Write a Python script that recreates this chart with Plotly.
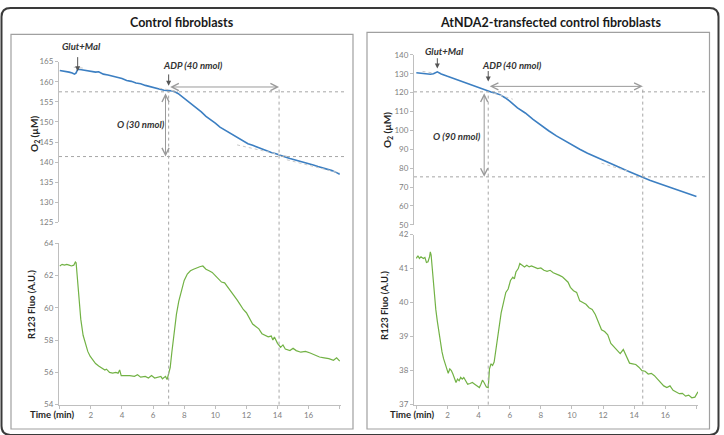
import plotly.graph_objects as go

# ---------------- data ----------------
# Left panel: Control fibroblasts
t_o2_left = [0.0, 0.2, 0.4, 0.6, 0.8, 0.95, 1.05, 1.15, 1.4, 1.7, 2.0, 2.3, 2.5, 2.8, 3.1, 3.4, 3.7, 4.0,
             4.3, 4.6, 4.9, 5.2, 5.5, 5.8, 6.1, 6.4, 6.7, 7.0, 7.3, 7.6, 7.9, 8.2, 8.5, 8.8, 9.1, 9.4,
             9.7, 10.0, 10.3, 10.6, 10.9, 11.2, 11.5, 11.8, 12.1, 12.4, 12.7, 13.0, 13.3, 13.6, 13.9,
             14.2, 14.5, 14.8, 15.1, 15.4, 15.7, 16.0, 16.3, 16.6, 16.9, 17.2, 17.5, 17.8, 18.0]
o2_left = [162.8, 162.7, 162.6, 162.4, 162.2, 161.9, 162.2, 163.1, 163.0, 162.8, 162.6, 162.4, 162.5,
           161.9, 161.7, 161.4, 161.0, 160.8, 160.3, 160.1, 159.7, 159.5, 159.1, 158.8, 158.5, 158.3,
           157.9, 157.8, 157.7, 157.1, 156.2, 155.3, 154.4, 153.3, 152.5, 151.4, 150.6, 149.7, 148.7,
           148.0, 147.4, 146.6, 146.1, 145.3, 144.6, 144.2, 143.7, 143.3, 142.9, 142.4, 142.1, 141.6,
           141.3, 140.9, 140.6, 140.2, 139.9, 139.6, 139.3, 138.9, 138.6, 138.3, 137.9, 137.4, 137.0]

t_fl_left = [0.0, 0.15, 0.3, 0.45, 0.6, 0.75, 0.9, 1.0, 1.05, 1.15, 1.25, 1.35, 1.5, 1.65, 1.8, 1.95,
             2.1, 2.3, 2.5, 2.7, 2.9, 3.0, 3.2, 3.4, 3.6, 3.75, 3.85, 3.95, 4.2, 4.5, 4.8, 5.0, 5.2,
             5.5, 5.7, 5.9, 6.1, 6.3, 6.5, 6.6, 6.8, 6.9, 7.0, 7.1, 7.2, 7.35, 7.5, 7.65, 7.8, 8.0,
             8.2, 8.4, 8.6, 8.8, 9.0, 9.2, 9.4, 9.6, 9.8, 10.0, 10.2, 10.4, 10.6, 10.8, 11.0, 11.2,
             11.4, 11.6, 11.8, 12.0, 12.2, 12.4, 12.6, 12.8, 13.0, 13.2, 13.4, 13.6, 13.7, 13.8, 14.0,
             14.2, 14.35, 14.5, 14.8, 15.0, 15.2, 15.5, 15.8, 16.1, 16.4, 16.7, 17.0, 17.3, 17.6,
             17.8, 18.0]
fl_left = [62.6, 62.7, 62.65, 62.7, 62.65, 62.6, 62.65, 62.85, 62.8, 61.5, 60.3, 59.3, 58.3, 57.8,
           57.3, 57.0, 56.8, 56.55, 56.4, 56.25, 56.15, 56.2, 56.0, 55.95, 56.0, 55.95, 56.15, 55.8,
           55.8, 55.8, 55.75, 55.85, 55.7, 55.75, 55.65, 55.8, 55.65, 55.7, 55.75, 55.6, 55.75, 55.55,
           55.85, 56.3, 57.2, 58.5, 59.6, 60.4, 61.0, 61.7, 62.1, 62.3, 62.4, 62.5, 62.55, 62.6, 62.4,
           62.3, 62.2, 62.0, 61.8, 61.6, 61.55, 61.3, 61.0, 60.8, 60.5, 60.2, 59.9, 59.7, 59.3, 59.0,
           58.85, 58.7, 58.4, 58.3, 58.2, 58.25, 58.0, 58.2, 57.8, 57.55, 57.7, 57.45, 57.35, 57.5,
           57.35, 57.25, 57.3, 57.2, 57.05, 56.95, 56.9, 56.85, 56.75, 56.9, 56.7]

# Right panel: AtNDA2-transfected control fibroblasts
t_o2_right = [0.0, 0.3, 0.6, 0.9, 1.1, 1.35, 1.6, 2.0, 2.5, 3.0, 3.5, 4.0, 4.5, 4.8, 5.1, 5.4, 5.7,
              6.0, 6.5, 7.0, 7.5, 8.0, 8.5, 9.0, 9.5, 10.0, 10.5, 11.0, 11.5, 12.0, 12.5, 13.0, 13.5,
              14.0, 14.55, 15.0, 15.5, 16.0, 16.5, 17.0, 17.5, 18.0]
o2_right = [130.5, 130.4, 130.0, 129.7, 130.0, 131.0, 129.9, 128.6, 127.1, 125.5, 124.0, 122.4, 120.8,
            120.3, 119.7, 118.8, 117.3, 115.5, 111.9, 109.2, 105.8, 102.7, 99.8, 97.1, 94.6, 92.1,
            90.0, 87.9, 86.0, 84.0, 82.3, 80.6, 78.8, 77.0, 75.0, 73.6, 72.1, 70.6, 69.3, 67.8, 66.4,
            65.0]

t_fl_right = [0.0, 0.1, 0.2, 0.3, 0.45, 0.55, 0.65, 0.75, 0.85, 0.9, 0.95, 1.05, 1.15, 1.25, 1.35,
              1.45, 1.55, 1.65, 1.75, 1.85, 1.95, 2.05, 2.15, 2.25, 2.35, 2.45, 2.55, 2.65, 2.75,
              2.85, 2.95, 3.05, 3.15, 3.3, 3.45, 3.6, 3.75, 3.9, 4.05, 4.15, 4.25, 4.35, 4.5, 4.62,
              4.7, 4.8, 4.9, 5.0, 5.1, 5.2, 5.3, 5.45, 5.6, 5.75, 5.9, 6.05, 6.2, 6.3, 6.4, 6.55,
              6.65, 6.8, 6.95, 7.1, 7.25, 7.4, 7.6, 7.8, 8.0, 8.2, 8.4, 8.6, 8.8, 9.0, 9.2, 9.4, 9.6,
              9.75, 9.9, 10.1, 10.3, 10.5, 10.7, 10.9, 11.1, 11.3, 11.5, 11.7, 11.9, 12.1, 12.3, 12.5,
              12.7, 12.9, 13.1, 13.3, 13.5, 13.7, 13.9, 14.1, 14.3, 14.5, 14.7, 14.9, 15.1, 15.3,
              15.5, 15.7, 15.9, 16.1, 16.3, 16.5, 16.7, 16.9, 17.1, 17.3, 17.5, 17.7, 17.9, 18.1]
fl_right = [41.3, 41.38, 41.3, 41.35, 41.3, 41.33, 41.18, 41.2, 41.35, 41.49, 41.4, 40.8, 40.2, 39.8,
            39.45, 39.1, 38.75, 38.55, 38.35, 38.2, 38.05, 37.92, 38.05, 38.0, 37.9, 37.8, 37.65,
            37.75, 37.7, 37.8, 37.75, 37.8, 37.72, 37.6, 37.62, 37.65, 37.6, 37.55, 37.5, 37.6,
            37.72, 37.65, 37.52, 37.5, 38.05, 38.2, 38.15, 38.25, 38.6, 38.95, 39.3, 39.7, 40.0,
            40.3, 40.4, 40.65, 40.75, 40.7, 40.9, 41.0, 41.15, 41.1, 41.05, 41.1, 41.05, 41.08,
            41.05, 41.0, 41.02, 40.95, 40.92, 40.95, 40.88, 40.85, 40.8, 40.75, 40.65, 40.6, 40.45,
            40.35, 40.3, 40.05, 40.0, 39.95, 39.85, 39.8, 39.65, 39.45, 39.2, 39.15, 39.05, 38.8,
            38.7, 38.6, 38.5, 38.62, 38.4, 38.22, 38.2, 38.18, 38.1, 38.0, 37.98, 37.9, 37.92,
            37.85, 37.75, 37.65, 37.55, 37.5, 37.55, 37.42, 37.38, 37.32, 37.33, 37.25, 37.28,
            37.2, 37.22, 37.38]

# axis ticks / ranges
x_ticks = [0, 2, 4, 6, 8, 10, 12, 14, 16, 18]
x_ticklabels = ["", "2", "4", "6", "8", "10", "12", "14", "16", ""]
o2_ticks_left = [125, 130, 135, 140, 145, 150, 155, 160, 165]
fl_ticks_left = [54, 56, 58, 60, 62, 64]
o2_ticks_right = [50, 60, 70, 80, 90, 100, 110, 120, 130, 140]
fl_ticks_right = [37, 38, 39, 40, 41, 42]

# annotation values (data space)
left_marks = dict(glut_t=1.15, adp_t=7.0, end_t=14.1, o2_hi=157.5, o2_lo=141.4,
                  arrow_o2=158.7, vert_t=6.8, glut_tip=162.6, glut_tail=166.5,
                  adp_tip=159.0, adp_tail=162.2)
right_marks = dict(glut_t=1.35, adp_t=4.62, end_t=14.55, o2_hi=120.4, o2_lo=75.4,
                   arrow_o2=123.3, vert_t=4.36, glut_tip=132.8, glut_tail=139.0,
                   adp_tip=125.9, adp_tail=132.2)

# light tangent guide segments: (t0, v0, t1, v1)
tangents_left = [(0.9, 163.6, 1.5, 163.4), (6.4, 158.4, 7.6, 157.6), (11.4, 144.3, 14.8, 141.3),
                 (14.6, 140.6, 18.0, 137.3)]
tangents_right = [(0.4, 131.2, 1.0, 130.5), (5.0, 119.6, 6.2, 116.5), (11.9, 82.6, 13.6, 78.4)]

# ---------------- layout geometry ----------------
W, H = 724, 435
BLUE = "#3c7fc2"
GREEN = "#72b245"
GRID = "#a6a6a6"
FONT = "Lato"

def px(x):
    return x / W

def py(y):
    return 1 - y / H

panels = {
    "L": dict(xdom=[px(59), px(340.5)], xr=[-0.05, 18.05],
              ytop=[py(222.6), py(58)], yr_top=[125, 165],
              ybot=[py(409), py(244)], yr_bot=[54, 64]),
    "R": dict(xdom=[px(414), px(698)], xr=[-0.15, 18.1],
              ytop=[py(225), py(51)], yr_top=[50, 140],
              ybot=[py(409), py(235)], yr_bot=[37, 42]),
}

fig = go.Figure()

def axis_common():
    return dict(showgrid=False, zeroline=False, showline=True, linecolor="#bfbfbf", linewidth=1,
                ticks="outside", ticklen=3, tickcolor="#bfbfbf",
                tickfont=dict(family=FONT, size=8, color="#808080"))

layout = dict(width=W, height=H, margin=dict(l=0, r=0, t=0, b=0),
              paper_bgcolor="white", plot_bgcolor="rgba(0,0,0,0)", showlegend=False)

axes_ids = {"L": ("", "2"), "R": ("3", "4")}
for key, (top, bot) in axes_ids.items():
    p = panels[key]
    xt, yt = "xaxis" + top, "yaxis" + top
    xb, yb = "xaxis" + bot, "yaxis" + bot
    layout[xt] = dict(domain=p["xdom"], range=p["xr"], visible=False, anchor="y" + top)
    layout[yt] = dict(axis_common(), domain=p["ytop"], range=p["yr_top"], anchor="x" + top,
                      tickvals=o2_ticks_left if key == "L" else o2_ticks_right)
    layout[xb] = dict(axis_common(), domain=p["xdom"], range=p["xr"], anchor="y" + bot,
                      tickvals=x_ticks, ticktext=x_ticklabels)
    layout[yb] = dict(axis_common(), domain=p["ybot"], range=p["yr_bot"], anchor="x" + bot,
                      tickvals=fl_ticks_left if key == "L" else fl_ticks_right)

fig.update_layout(**layout)

fig.add_trace(go.Scatter(x=t_o2_left, y=o2_left, mode="lines", line=dict(color=BLUE, width=1.6),
                         xaxis="x", yaxis="y"))
fig.add_trace(go.Scatter(x=t_fl_left, y=fl_left, mode="lines", line=dict(color=GREEN, width=1.2),
                         xaxis="x2", yaxis="y2"))
fig.add_trace(go.Scatter(x=t_o2_right, y=o2_right, mode="lines", line=dict(color=BLUE, width=1.6),
                         xaxis="x3", yaxis="y3"))
fig.add_trace(go.Scatter(x=t_fl_right, y=fl_right, mode="lines", line=dict(color=GREEN, width=1.2),
                         xaxis="x4", yaxis="y4"))

shapes = []
annotations = []

def xpaper(key, t):
    p = panels[key]
    return p["xdom"][0] + (t - p["xr"][0]) / (p["xr"][1] - p["xr"][0]) * (p["xdom"][1] - p["xdom"][0])

def ypaper_top(key, v):
    p = panels[key]
    r0, r1 = p["yr_top"]
    return p["ytop"][0] + (v - r0) / (r1 - r0) * (p["ytop"][1] - p["ytop"][0])

# outer rounded frame
r = 9
x0, x1, y0, y1 = 1.5, 718.5, 3, 440
path = (f"M {px(x0 + r)} {py(y0)} L {px(x1 - r)} {py(y0)} Q {px(x1)} {py(y0)} {px(x1)} {py(y0 + r)} "
        f"L {px(x1)} {py(y1 - r)} Q {px(x1)} {py(y1)} {px(x1 - r)} {py(y1)} "
        f"L {px(x0 + r)} {py(y1)} Q {px(x0)} {py(y1)} {px(x0)} {py(y1 - r)} "
        f"L {px(x0)} {py(y0 + r)} Q {px(x0)} {py(y0)} {px(x0 + r)} {py(y0)} Z")
shapes.append(dict(type="path", path=path, xref="paper", yref="paper",
                   line=dict(color="#3a3a3a", width=2)))
# inner panel boxes
for (bx0, bx1, by0, by1) in [(11, 353, 30, 434), (367, 709.5, 28, 434)]:
    shapes.append(dict(type="rect", xref="paper", yref="paper", x0=px(bx0), x1=px(bx1),
                       y0=py(by1), y1=py(by0), line=dict(color="#a0a0a0", width=1.2)))

box_right = {"L": px(347), "R": px(705)}
axes_of = {"L": ("x", "y", "x2", "y2"), "R": ("x3", "y3", "x4", "y4")}
tangents = {"L": tangents_left, "R": tangents_right}

for key, m in [("L", left_marks), ("R", right_marks)]:
    xa, ya, xb, yb = axes_of[key]
    p = panels[key]
    dot = dict(color=GRID, width=1, dash="dot")
    # horizontal dotted lines
    for v in (m["o2_hi"], m["o2_lo"]):
        yy = ypaper_top(key, v)
        shapes.append(dict(type="line", xref="paper", yref="paper", x0=p["xdom"][0], x1=box_right[key],
                           y0=yy, y1=yy, line=dot))
    # vertical dotted lines down to bottom axis
    shapes.append(dict(type="line", xref="paper", yref="paper",
                       x0=xpaper(key, m["adp_t"]), x1=xpaper(key, m["adp_t"]),
                       y0=p["ybot"][0], y1=ypaper_top(key, m["o2_hi"]), line=dot))
    shapes.append(dict(type="line", xref="paper", yref="paper",
                       x0=xpaper(key, m["end_t"]), x1=xpaper(key, m["end_t"]),
                       y0=p["ybot"][0], y1=ypaper_top(key, m["arrow_o2"]), line=dot))
    # tangent guides
    for (a0, v0, a1, v1) in tangents[key]:
        shapes.append(dict(type="line", xref=xa, yref=ya, x0=a0, y0=v0, x1=a1, y1=v1,
                           line=dict(color="#c8c8c8", width=1, dash="dot")))
    # horizontal double arrow
    annotations.append(dict(x=m["end_t"], y=m["arrow_o2"], ax=m["adp_t"], ay=m["arrow_o2"],
                            xref=xa, yref=ya, axref=xa, ayref=ya, text="", showarrow=True,
                            arrowhead=5, startarrowhead=5, arrowside="end+start", arrowsize=1.4,
                            arrowwidth=1, arrowcolor="#9a9a9a", standoff=0, startstandoff=0))
    # vertical double arrow
    annotations.append(dict(x=m["vert_t"], y=m["o2_lo"], ax=m["vert_t"], ay=m["o2_hi"],
                            xref=xa, yref=ya, axref=xa, ayref=ya, text="", showarrow=True,
                            arrowhead=5, startarrowhead=5, arrowside="end+start", arrowsize=1.4,
                            arrowwidth=1, arrowcolor="#9a9a9a", standoff=0, startstandoff=0))
    # Glut+Mal and ADP arrows
    annotations.append(dict(x=m["glut_t"], y=m["glut_tip"], ax=m["glut_t"], ay=m["glut_tail"],
                            xref=xa, yref=ya, axref=xa, ayref=ya, text="", showarrow=True,
                            arrowhead=2, arrowsize=1, arrowwidth=1, arrowcolor="#555555"))
    annotations.append(dict(x=m["adp_t"], y=m["adp_tip"], ax=m["adp_t"], ay=m["adp_tail"],
                            xref=xa, yref=ya, axref=xa, ayref=ya, text="", showarrow=True,
                            arrowhead=2, arrowsize=1, arrowwidth=1, arrowcolor="#555555"))

lbl_font = dict(family=FONT, size=9.5, color="#333333", style="italic", weight="bold")
label_pos = {
    "L": dict(glut=(81, 42), adp=(193, 62), o=(141, 122), o_txt="O (30 nmol)",
              o2lab=(35, 132), fllab=(32, 307), time=(53, 419), title=(182, 18),
              title_txt="Control fibroblasts"),
    "R": dict(glut=(444, 47.5), adp=(512, 61.5), o=(457, 135), o_txt="O (90 nmol)",
              o2lab=(387, 128), fllab=(385, 307), time=(412, 419), title=(550, 18),
              title_txt="AtNDA2-transfected control fibroblasts"),
}

def txt(x, y, text, font, angle=0):
    return dict(x=px(x), y=py(y), xref="paper", yref="paper", text=text, showarrow=False,
                xanchor="center", yanchor="middle", textangle=angle, font=font)

for key, lp in label_pos.items():
    annotations.append(txt(*lp["glut"], "Glut+Mal", lbl_font))
    annotations.append(txt(*lp["adp"], "ADP (40 nmol)", lbl_font))
    annotations.append(txt(*lp["o"], lp["o_txt"], lbl_font))
    annotations.append(txt(*lp["o2lab"], "O<sub>2</sub> (µM)",
                           dict(family=FONT, size=10, color="#262626", weight="bold"), -90))
    annotations.append(txt(*lp["fllab"], "R123 Fluo (A.U.)",
                           dict(family=FONT, size=9.5, color="#262626", weight="bold"), -90))
    annotations.append(txt(*lp["time"], "Time (min)",
                           dict(family=FONT, size=9.5, color="#262626", weight="bold")))
    annotations.append(txt(*lp["title"], lp["title_txt"],
                           dict(family=FONT, size=12.5, color="#1a1a1a", weight="bold")))

fig.update_layout(shapes=shapes, annotations=annotations)
fig.write_html("out.html")
